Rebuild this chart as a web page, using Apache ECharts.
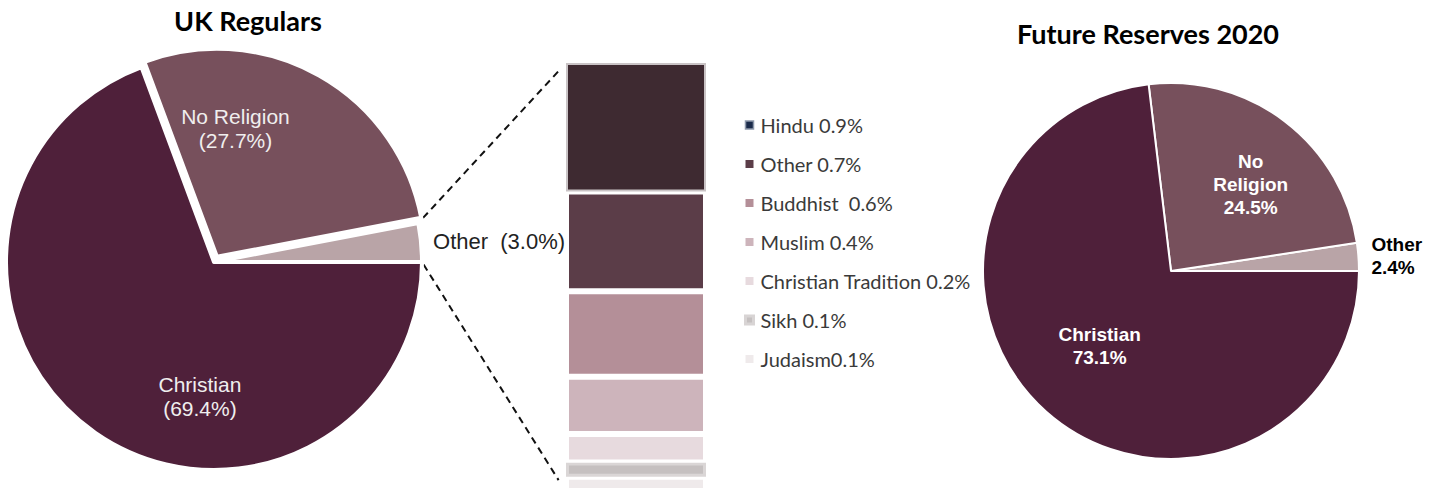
<!DOCTYPE html>
<html>
<head>
<meta charset="utf-8">
<script src="https://cdn.jsdelivr.net/npm/echarts@6/dist/echarts.min.js"></script>
<style>
  html, body { margin: 0; padding: 0; background: #fff; }
  #chart { width: 1443px; height: 491px; }
</style>
</head>
<body>
<div id="chart"></div>
<script>
// pie slices, in drawing order (counter-clockwise from 3 o'clock)
var PIE_NAMES = ['Other', 'No Religion', 'Christian'];
var REGULAR_VALUES = [3.0, 27.7, 69.4];
var RESERVE_VALUES = [2.4, 24.5, 73.1];

// breakdown of "Other" for UK Regulars, top of the bar first
var OTHER_NAMES = ['Hindu', 'Other', 'Buddhist', 'Muslim', 'Christian Tradition', 'Sikh', 'Judaism'];
var OTHER_VALUES = [0.9, 0.7, 0.6, 0.4, 0.2, 0.1, 0.1];

(function(){
  var PIE_COLORS = ['#b9a4a7', '#77505c', '#4f203a'];
  var BAR_COLORS = ['#3e2a31', '#5b3d48', '#b48f98', '#cdb4bb', '#e7dade', '#c5c0c0', '#efeaeb'];
  var LABEL_FONT = '"Liberation Sans", Arial, sans-serif';
  var TITLE_FONT = 'Lato, "Open Sans", sans-serif';

  // layout of the left pie and the bar, shared with the connector lines
  var L = {cx: 214, cy: 262, r: 208};
  var R = {cx: 1171, cy: 271, r: 188};
  var BAR = {left: 566, top: 63, width: 140, height: 429};

  function pct(v) { return v.toFixed(1) + '%'; }

  // left pie
  var regOffsets = [[0, 0], [-34, -35], [47, 47]];
  var regData = PIE_NAMES.map(function(n, i){
    var d = {name: n, value: REGULAR_VALUES[i], itemStyle: {color: PIE_COLORS[i]}};
    if (i === 0) {
      d.label = {position: 'outside', color: '#222', fontSize: 22, formatter: n + '  (' + pct(REGULAR_VALUES[i]) + ')'};
      d.labelLine = {show: false};
    } else {
      d.label = {position: 'inside', offset: regOffsets[i], formatter: n + '\n(' + pct(REGULAR_VALUES[i]) + ')'};
      d.select = {label: {offset: regOffsets[i]}};
    }
    if (i === 1) d.selected = true;
    return d;
  });

  // right pie
  var resOffsets = [[0, 0], [21, -9], [-7, 2]];
  var resData = PIE_NAMES.map(function(n, i){
    var d = {name: n, value: RESERVE_VALUES[i], itemStyle: {color: PIE_COLORS[i]}};
    if (i === 0) {
      d.label = {position: 'outside', color: '#000', align: 'center', formatter: n + '\n' + pct(RESERVE_VALUES[i])};
      d.labelLine = {show: false};
    } else if (i === 1) {
      d.label = {position: 'inside', offset: resOffsets[i], formatter: 'No\nReligion\n' + pct(RESERVE_VALUES[i])};
    } else {
      d.label = {position: 'inside', offset: resOffsets[i], formatter: n + '\n' + pct(RESERVE_VALUES[i])};
    }
    return d;
  });

  // stacked bar, bottom segment first
  var barSeries = [];
  for (var i = OTHER_NAMES.length - 1; i >= 0; i--) {
    var st = {color: BAR_COLORS[i], borderColor: '#fff', borderWidth: 3};
    if (OTHER_NAMES[i] === 'Hindu') { st.borderColor = '#c9c3c5'; st.borderWidth = 2; }
    if (OTHER_NAMES[i] === 'Sikh') { st.borderColor = '#dad6d6'; st.borderWidth = 3; }
    barSeries.push({
      type: 'bar', name: OTHER_NAMES[i], stack: 'other', data: [OTHER_VALUES[i]],
      barWidth: '100%', itemStyle: st, silent: true
    });
  }

  var legendData = OTHER_NAMES.map(function(n, i){
    var st = {color: BAR_COLORS[i], borderWidth: 0};
    if (n === 'Hindu') st = {color: '#1b2b4a', borderColor: '#8d98aa', borderWidth: 1.5};
    if (n === 'Sikh') st = {color: '#c5c0c0', borderColor: '#d8d4d4', borderWidth: 3};
    return {name: n, icon: 'rect', itemStyle: st};
  });
  var legendGaps = {'Buddhist': '  ', 'Judaism': ''};

  // dashed connectors from the "Other" slice to the bar
  var a = REGULAR_VALUES[0] / REGULAR_VALUES.reduce(function(s, v){ return s + v; }, 0) * Math.PI * 2;
  function connector(x1, y1, x2, y2, cut1, cut2) {
    var dx = x2 - x1, dy = y2 - y1, len = Math.sqrt(dx * dx + dy * dy);
    dx /= len; dy /= len;
    return {
      type: 'line', silent: true,
      shape: {x1: x1 + dx * cut1, y1: y1 + dy * cut1, x2: x2 - dx * cut2, y2: y2 - dy * cut2},
      style: {stroke: '#111', lineWidth: 2, lineDash: [7, 5]}
    };
  }

  var option = {
    animation: false,
    graphic: [
      {type: 'text', x: 248, y: 20, silent: true,
        style: {text: 'UK Regulars', font: 'bold 27px ' + TITLE_FONT, fill: '#000', align: 'center', verticalAlign: 'middle'}},
      {type: 'text', x: 1148, y: 33, silent: true,
        style: {text: 'Future Reserves 2020', font: 'bold 27px ' + TITLE_FONT, fill: '#000', align: 'center', verticalAlign: 'middle'}},
      connector(L.cx + L.r * Math.cos(a), L.cy - L.r * Math.sin(a), BAR.left, BAR.top, 7, 11),
      connector(L.cx + L.r, L.cy, BAR.left, BAR.top + BAR.height, 3, 14)
    ],
    legend: {
      orient: 'vertical', left: 739, top: 110,
      itemWidth: 8, itemHeight: 8, itemGap: 19,
      selectedMode: false,
      data: legendData,
      textStyle: {fontFamily: TITLE_FONT, fontSize: 20, lineHeight: 20, color: '#3a3a3a', padding: [0, 0, 0, 2]},
      formatter: function(name){
        var v = OTHER_VALUES[OTHER_NAMES.indexOf(name)];
        var gap = legendGaps.hasOwnProperty(name) ? legendGaps[name] : ' ';
        return name + gap + pct(v);
      }
    },
    grid: {left: BAR.left, top: BAR.top, width: BAR.width, height: BAR.height},
    xAxis: {type: 'category', data: ['Other'], show: false},
    yAxis: {type: 'value', min: 0, max: 3.0, show: false},
    series: [
      {
        type: 'pie', name: 'UK Regulars',
        center: [L.cx, L.cy], radius: L.r,
        startAngle: 0, clockwise: false,
        avoidLabelOverlap: false, selectedMode: 'single', selectedOffset: 6,
        itemStyle: {borderColor: '#fff', borderWidth: 4},
        label: {fontFamily: LABEL_FONT, fontSize: 21, lineHeight: 24, color: '#f0eeee'},
        labelLine: {show: false, length: 7, length2: 0},
        emphasis: {disabled: true},
        data: regData
      },
      {
        type: 'pie', name: 'Future Reserves 2020',
        center: [R.cx, R.cy], radius: R.r,
        startAngle: 0, clockwise: false,
        avoidLabelOverlap: false,
        itemStyle: {borderColor: '#fff', borderWidth: 2},
        label: {fontFamily: LABEL_FONT, fontSize: 19, fontWeight: 'bold', lineHeight: 23, color: '#fff'},
        labelLine: {show: false, length: 8, length2: 0},
        emphasis: {disabled: true},
        data: resData
      }
    ].concat(barSeries)
  };

  var chart = echarts.init(document.getElementById('chart'), null, {renderer: 'svg'});
  chart.setOption(option);
})();
</script>
</body>
</html>
